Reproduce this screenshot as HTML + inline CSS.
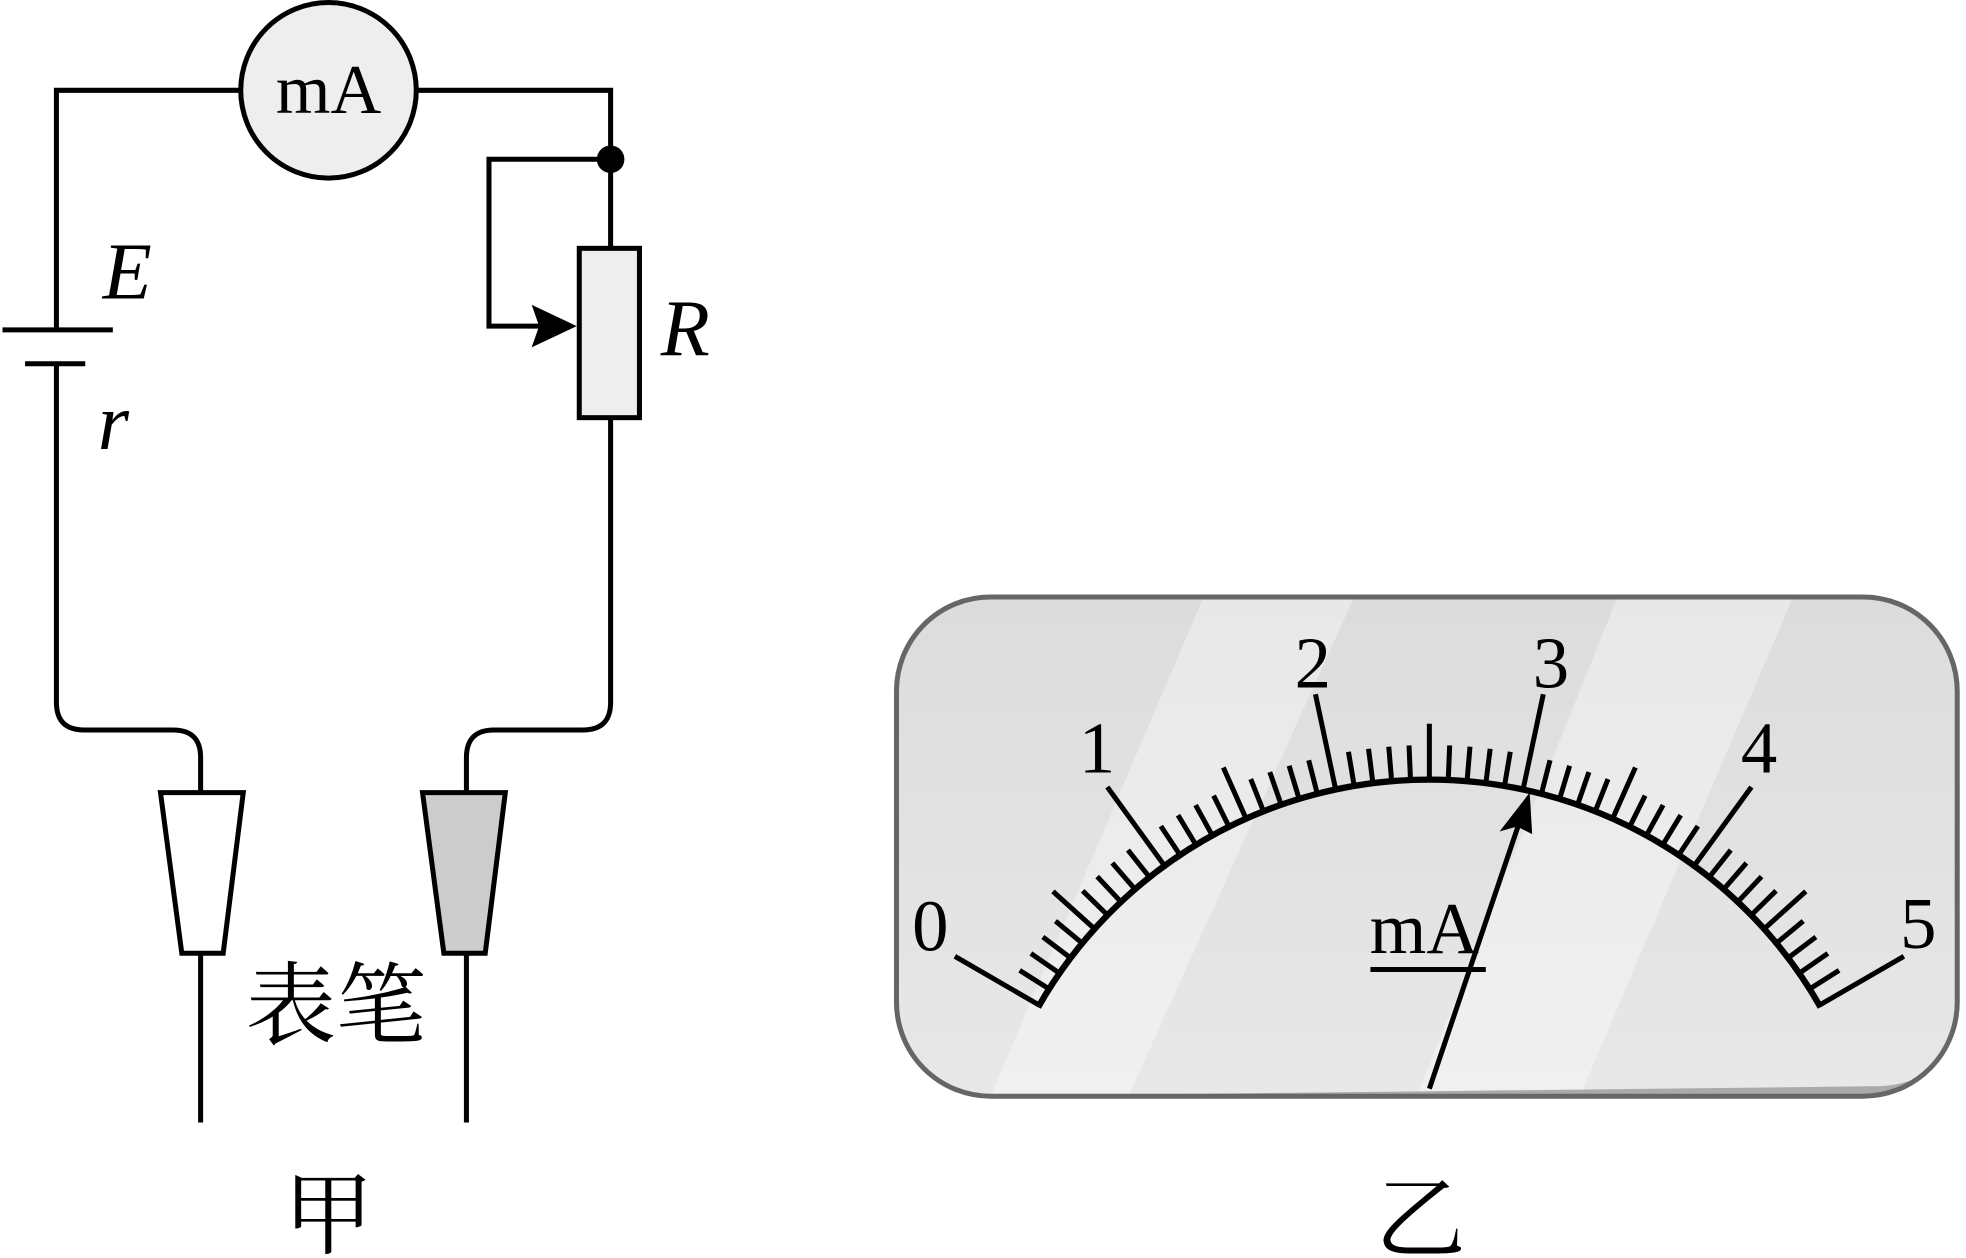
<!DOCTYPE html>
<html><head><meta charset="utf-8"><style>
html,body{margin:0;padding:0;background:#fff;}
svg{display:block;}
</style></head><body>
<svg width="1966" height="1258" viewBox="0 0 1568 1003" preserveAspectRatio="none" xmlns="http://www.w3.org/2000/svg">
<defs>
<linearGradient id="g" x1="0" y1="0" x2="0" y2="1">
<stop offset="0" stop-color="#dcdcdc"/><stop offset="1" stop-color="#e8e8e8"/>
</linearGradient>
<clipPath id="cp"><rect x="715" y="476" width="846" height="398" rx="75"/></clipPath>
</defs>
<g fill="none" stroke="#000" stroke-width="4">
<path d="M192 72 H45 V263"/>
<path d="M332 72 H487 V198"/>
<path d="M45 290 V560 Q45 582 67 582 H138 Q160 582 160 604 V632"/>
<path d="M487 333 V560 Q487 582 465 582 H394 Q372 582 372 604 V632"/>
<path d="M487 127 H390 V260 H430"/>
<line x1="2" y1="263" x2="90" y2="263"/>
<line x1="20" y1="290" x2="68" y2="290"/>
<line x1="160" y1="760" x2="160" y2="895"/>
<line x1="372" y1="760" x2="372" y2="895"/>
</g>
<polygon points="460,260 424,243 430,260 424,277" fill="#000"/>
<circle cx="487" cy="127" r="11" fill="#000"/>
<circle cx="262" cy="72" r="70" fill="#eee" stroke="#000" stroke-width="4"/>
<rect x="462" y="198" width="48" height="135" fill="#eee" stroke="#000" stroke-width="4"/>
<polygon points="128,632 194,632 178,760 145,760" fill="#fff" stroke="#000" stroke-width="4"/>
<polygon points="337,632 403,632 387,760 354,760" fill="#ccc" stroke="#000" stroke-width="4"/>
<g font-family="'Liberation Serif',serif" fill="#000">
<text x="262" y="90" font-size="56" text-anchor="middle">mA</text>
<text x="82" y="238" font-size="64" font-style="italic">E</text>
<text x="78" y="358" font-size="64" font-style="italic">r</text>
<text x="527" y="283" font-size="64" font-style="italic">R</text>
</g>
<g font-family="'Liberation Serif','Noto Serif CJK SC',serif" fill="#000">
<text x="268" y="827" font-size="72" text-anchor="middle">表笔</text>
<text x="262" y="994" font-size="72" text-anchor="middle">甲</text>
<text x="1133" y="997" font-size="72" text-anchor="middle">乙</text>
</g>
<rect x="715" y="476" width="846" height="398" rx="75" fill="url(#g)"/>
<g clip-path="url(#cp)">
<polygon points="960,476 1080,476 900,874 790,874" fill="#fff" opacity="0.35"/>
<polygon points="1290,476 1430,476 1260,874 1130,874" fill="#fff" opacity="0.35"/>
<path d="M1561 800 Q1561 862 1500 866 L790 874 H1490 Q1561 874 1561 800Z" fill="#aaa"/>
</g>
<rect x="715" y="476" width="846" height="398" rx="75" fill="none" stroke="#666" stroke-width="4"/>
<path d="M828 803 A359 359 0 0 1 1452 803" fill="none" stroke="#000" stroke-width="5"/>
<g stroke="#000" stroke-width="4">
<line x1="1140" y1="622" x2="1140" y2="544" transform="rotate(-60 1140 981)"/>
<line x1="1140" y1="622" x2="1140" y2="594" transform="rotate(-57.6 1140 981)"/>
<line x1="1140" y1="622" x2="1140" y2="594" transform="rotate(-55.2 1140 981)"/>
<line x1="1140" y1="622" x2="1140" y2="594" transform="rotate(-52.8 1140 981)"/>
<line x1="1140" y1="622" x2="1140" y2="594" transform="rotate(-50.4 1140 981)"/>
<line x1="1140" y1="622" x2="1140" y2="577" transform="rotate(-48 1140 981)"/>
<line x1="1140" y1="622" x2="1140" y2="594" transform="rotate(-45.6 1140 981)"/>
<line x1="1140" y1="622" x2="1140" y2="594" transform="rotate(-43.2 1140 981)"/>
<line x1="1140" y1="622" x2="1140" y2="594" transform="rotate(-40.8 1140 981)"/>
<line x1="1140" y1="622" x2="1140" y2="594" transform="rotate(-38.4 1140 981)"/>
<line x1="1140" y1="622" x2="1140" y2="544" transform="rotate(-36 1140 981)"/>
<line x1="1140" y1="622" x2="1140" y2="594" transform="rotate(-33.6 1140 981)"/>
<line x1="1140" y1="622" x2="1140" y2="594" transform="rotate(-31.2 1140 981)"/>
<line x1="1140" y1="622" x2="1140" y2="594" transform="rotate(-28.8 1140 981)"/>
<line x1="1140" y1="622" x2="1140" y2="594" transform="rotate(-26.4 1140 981)"/>
<line x1="1140" y1="622" x2="1140" y2="577" transform="rotate(-24 1140 981)"/>
<line x1="1140" y1="622" x2="1140" y2="594" transform="rotate(-21.6 1140 981)"/>
<line x1="1140" y1="622" x2="1140" y2="594" transform="rotate(-19.2 1140 981)"/>
<line x1="1140" y1="622" x2="1140" y2="594" transform="rotate(-16.8 1140 981)"/>
<line x1="1140" y1="622" x2="1140" y2="594" transform="rotate(-14.4 1140 981)"/>
<line x1="1140" y1="622" x2="1140" y2="544" transform="rotate(-12 1140 981)"/>
<line x1="1140" y1="622" x2="1140" y2="594" transform="rotate(-9.6 1140 981)"/>
<line x1="1140" y1="622" x2="1140" y2="594" transform="rotate(-7.2 1140 981)"/>
<line x1="1140" y1="622" x2="1140" y2="594" transform="rotate(-4.8 1140 981)"/>
<line x1="1140" y1="622" x2="1140" y2="594" transform="rotate(-2.4 1140 981)"/>
<line x1="1140" y1="622" x2="1140" y2="577"/>
<line x1="1140" y1="622" x2="1140" y2="594" transform="rotate(2.4 1140 981)"/>
<line x1="1140" y1="622" x2="1140" y2="594" transform="rotate(4.8 1140 981)"/>
<line x1="1140" y1="622" x2="1140" y2="594" transform="rotate(7.2 1140 981)"/>
<line x1="1140" y1="622" x2="1140" y2="594" transform="rotate(9.6 1140 981)"/>
<line x1="1140" y1="622" x2="1140" y2="544" transform="rotate(12 1140 981)"/>
<line x1="1140" y1="622" x2="1140" y2="594" transform="rotate(14.4 1140 981)"/>
<line x1="1140" y1="622" x2="1140" y2="594" transform="rotate(16.8 1140 981)"/>
<line x1="1140" y1="622" x2="1140" y2="594" transform="rotate(19.2 1140 981)"/>
<line x1="1140" y1="622" x2="1140" y2="594" transform="rotate(21.6 1140 981)"/>
<line x1="1140" y1="622" x2="1140" y2="577" transform="rotate(24 1140 981)"/>
<line x1="1140" y1="622" x2="1140" y2="594" transform="rotate(26.4 1140 981)"/>
<line x1="1140" y1="622" x2="1140" y2="594" transform="rotate(28.8 1140 981)"/>
<line x1="1140" y1="622" x2="1140" y2="594" transform="rotate(31.2 1140 981)"/>
<line x1="1140" y1="622" x2="1140" y2="594" transform="rotate(33.6 1140 981)"/>
<line x1="1140" y1="622" x2="1140" y2="544" transform="rotate(36 1140 981)"/>
<line x1="1140" y1="622" x2="1140" y2="594" transform="rotate(38.4 1140 981)"/>
<line x1="1140" y1="622" x2="1140" y2="594" transform="rotate(40.8 1140 981)"/>
<line x1="1140" y1="622" x2="1140" y2="594" transform="rotate(43.2 1140 981)"/>
<line x1="1140" y1="622" x2="1140" y2="594" transform="rotate(45.6 1140 981)"/>
<line x1="1140" y1="622" x2="1140" y2="577" transform="rotate(48 1140 981)"/>
<line x1="1140" y1="622" x2="1140" y2="594" transform="rotate(50.4 1140 981)"/>
<line x1="1140" y1="622" x2="1140" y2="594" transform="rotate(52.8 1140 981)"/>
<line x1="1140" y1="622" x2="1140" y2="594" transform="rotate(55.2 1140 981)"/>
<line x1="1140" y1="622" x2="1140" y2="594" transform="rotate(57.6 1140 981)"/>
<line x1="1140" y1="622" x2="1140" y2="544" transform="rotate(60 1140 981)"/>
</g>
<g font-family="'Liberation Serif',serif" font-size="58" fill="#000" text-anchor="middle">
<text x="742" y="758">0</text>
<text x="875" y="616">1</text>
<text x="1047" y="548">2</text>
<text x="1237" y="548">3</text>
<text x="1403" y="616">4</text>
<text x="1530" y="756">5</text>
<text x="1136" y="760">mA</text>
</g>
<line x1="1093" y1="773" x2="1185" y2="773" stroke="#000" stroke-width="4"/>
<line x1="1140" y1="868" x2="1212" y2="655" stroke="#000" stroke-width="4"/>
<polygon points="1220,632 1222,665 1210,659 1196,663" fill="#000"/>
</svg>
</body></html>
